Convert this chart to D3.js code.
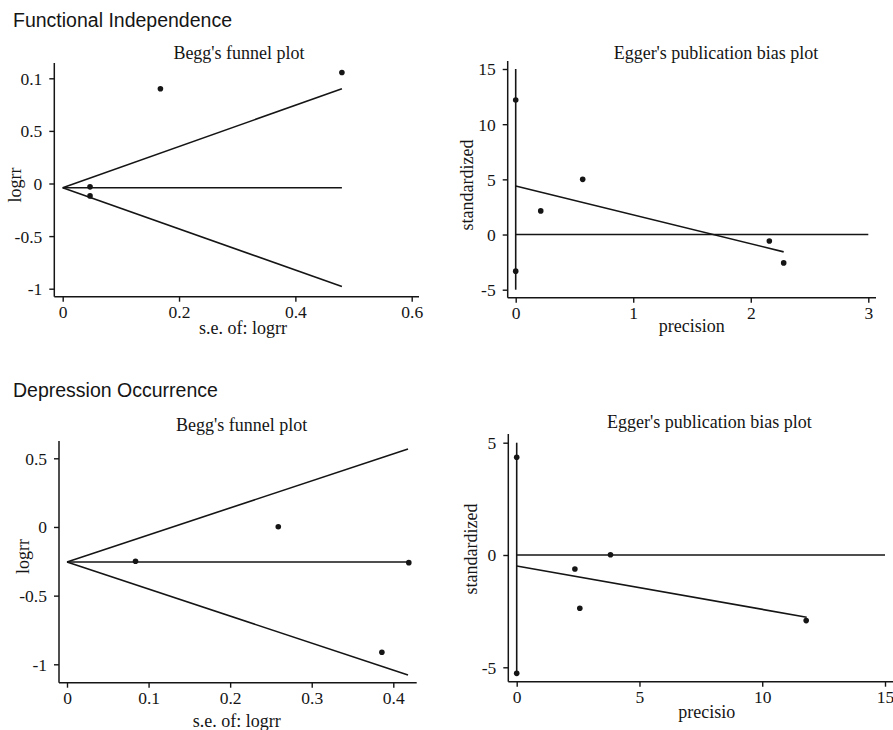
<html>
<head>
<meta charset="utf-8">
<script src="https://d3js.org/d3.v7.min.js"></script>
<style>
body{margin:0;background:#fff;}
svg{display:block;}
</style>
</head>
<body>
<script>
// ---- data ----
// Functional Independence, Begg
const fiBeggSe = [0.047, 0.047, 0.168, 0.48];
const fiBeggLogrr = [-0.032, -0.118, 0.90, 1.055];
const fiFunnelSe = [0, 0.48];
const fiFunnelUpper = [-0.04, 0.90];
const fiFunnelMid = [-0.04, -0.04];
const fiFunnelLower = [-0.04, -0.98];
const fiBeggXTicks = [0, 0.2, 0.4, 0.6];
const fiBeggXLabels = ['0', '0.2', '0.4', '0.6'];
const fiBeggYTicks = [1, 0.5, 0, -0.5, -1];
const fiBeggYLabels = ['0.1', '0.5', '0', '-0.5', '-1'];

// Functional Independence, Egger
const fiEggerPrec = [0, 0, 0.213, 0.57, 2.158, 2.28];
const fiEggerStd = [12.19, -3.32, 2.14, 5.0, -0.58, -2.57];
const fiEggerFitX = [0, 2.28];
const fiEggerFitY = [4.40, -1.57];
const fiEggerVert = [-5, 15];
const fiEggerZeroX = [0, 3];
const fiEggerXTicks = [0, 1, 2, 3];
const fiEggerYTicks = [15, 10, 5, 0, -5];

// Depression Occurrence, Begg
const doBeggSe = [0.084, 0.259, 0.419, 0.386];
const doBeggLogrr = [-0.25, 0.002, -0.26, -0.912];
const doFunnelSe = [0, 0.418];
const doFunnelUpper = [-0.255, 0.568];
const doFunnelMid = [-0.255, -0.255];
const doFunnelLower = [-0.255, -1.078];
const doBeggXTicks = [0, 0.1, 0.2, 0.3, 0.4];
const doBeggYTicks = [0.5, 0, -0.5, -1];

// Depression Occurrence, Egger
const doEggerPrec = [0, 0, 2.37, 2.57, 3.82, 11.79];
const doEggerStd = [4.35, -5.27, -0.62, -2.37, 0.01, -2.92];
const doEggerFitX = [0, 11.81];
const doEggerFitY = [-0.49, -2.77];
const doEggerVert = [-5.3, 5];
const doEggerZeroX = [0, 15];
const doEggerXTicks = [0, 5, 10, 15];
const doEggerYTicks = [5, 0, -5];

const serif = '"Liberation Serif", "Times New Roman", serif';
const ink = '#151515';

const svg = d3.select('body').append('svg')
  .attr('width', 893)
  .attr('height', 730);

// section headings
svg.append('text').attr('x', 13).attr('y', 27)
  .attr('font-family', '"Liberation Sans", Arial, sans-serif')
  .attr('font-size', 19.5).attr('fill', ink)
  .text('Functional Independence');
svg.append('text').attr('x', 13).attr('y', 397)
  .attr('font-family', '"Liberation Sans", Arial, sans-serif')
  .attr('font-size', 19.5).attr('fill', ink)
  .text('Depression Occurrence');

const zip = (a, b) => a.map((v, i) => [v, b[i]]);

function plot(p){
  const g = svg.append('g');
  const x = d3.scaleLinear().domain(p.xDomain).range(p.xRange);
  const y = d3.scaleLinear().domain(p.yDomain).range(p.yRange);
  const line = d3.line().x(d=>x(d[0])).y(d=>y(d[1]));

  // x axis
  const xa = g.append('g')
    .attr('transform', `translate(0,${p.axisY})`)
    .call(d3.axisBottom(x).tickValues(p.xTicks)
      .tickFormat((d,i)=>p.xLabels ? p.xLabels[i] : String(d))
      .tickSize(5).tickPadding(4).tickSizeOuter(0));
  xa.select('.domain').remove();
  // y axis
  const ya = g.append('g')
    .attr('transform', `translate(${p.axisX},0)`)
    .call(d3.axisLeft(y).tickValues(p.yTicks)
      .tickFormat((d,i)=>p.yLabels ? p.yLabels[i] : String(d))
      .tickSize(5).tickPadding(7).tickSizeOuter(0));
  ya.select('.domain').remove();
  [xa, ya].forEach(a=>{
    a.attr('font-family', serif).attr('font-size', 17.5);
    a.selectAll('text').attr('fill', ink);
    a.selectAll('line').attr('stroke', ink).attr('stroke-width', 1.4);
  });
  ya.selectAll('text').attr('dy', '0.34em');

  // axis lines
  g.append('line')
    .attr('x1', p.axisX).attr('x2', p.axisX)
    .attr('y1', p.axisTop).attr('y2', p.axisY)
    .attr('stroke', ink).attr('stroke-width', 1.5);
  g.append('line')
    .attr('x1', p.axisX).attr('x2', p.axisRight)
    .attr('y1', p.axisY).attr('y2', p.axisY)
    .attr('stroke', ink).attr('stroke-width', 1.5);

  // reference lines
  p.lines.forEach(l=>{
    g.append('path')
      .attr('d', line(l))
      .attr('fill', 'none')
      .attr('stroke', ink)
      .attr('stroke-width', 1.6);
  });

  // points
  g.selectAll('circle.pt')
    .data(zip(p.px, p.py))
    .enter()
    .append('circle')
      .attr('class', 'pt')
      .attr('cx', d=>x(d[0]))
      .attr('cy', d=>y(d[1]))
      .attr('r', 2.8)
      .attr('fill', ink);

  // titles
  g.append('text')
    .attr('x', p.title[1]).attr('y', p.title[2])
    .attr('text-anchor', 'middle')
    .attr('font-family', serif).attr('font-size', 18).attr('fill', ink)
    .text(p.title[0]);
  g.append('text')
    .attr('x', p.xTitle[1]).attr('y', p.xTitle[2])
    .attr('text-anchor', 'middle')
    .attr('font-family', serif).attr('font-size', 18).attr('fill', ink)
    .text(p.xTitle[0]);
  g.append('text')
    .attr('transform', `translate(${p.yTitle[1]},${p.yTitle[2]}) rotate(-90)`)
    .attr('text-anchor', 'middle')
    .attr('font-family', serif).attr('font-size', 18).attr('fill', ink)
    .text(p.yTitle[0]);
}

plot({
  xDomain: [0, 0.6], xRange: [62.7, 411.7],
  yDomain: [-1, 1], yRange: [288.7, 78.3],
  axisX: 54.3, axisY: 296.7, axisTop: 63, axisRight: 419,
  xTicks: fiBeggXTicks, xLabels: fiBeggXLabels,
  yTicks: fiBeggYTicks, yLabels: fiBeggYLabels,
  lines: [zip(fiFunnelSe, fiFunnelUpper), zip(fiFunnelSe, fiFunnelMid), zip(fiFunnelSe, fiFunnelLower)],
  px: fiBeggSe, py: fiBeggLogrr,
  title: ["Begg's funnel plot", 239, 58.5],
  xTitle: ['s.e. of: logrr', 243, 334],
  yTitle: ['logrr', 21, 185]
});

plot({
  xDomain: [0, 3], xRange: [515.7, 868.3],
  yDomain: [-5, 15], yRange: [289.7, 69],
  axisX: 507.7, axisY: 297.7, axisTop: 61, axisRight: 876,
  xTicks: fiEggerXTicks,
  yTicks: fiEggerYTicks,
  lines: [zip([0, 0], fiEggerVert), zip(fiEggerZeroX, [0, 0]), zip(fiEggerFitX, fiEggerFitY)],
  px: fiEggerPrec, py: fiEggerStd,
  title: ["Egger's publication bias plot", 716, 59.3],
  xTitle: ['precision', 691.7, 332],
  yTitle: ['standardized', 472.5, 185]
});

plot({
  xDomain: [0, 0.4], xRange: [67, 393.3],
  yDomain: [-1, 0.5], yRange: [664.3, 458.3],
  axisX: 59, axisY: 682.7, axisTop: 441, axisRight: 416.7,
  xTicks: doBeggXTicks,
  yTicks: doBeggYTicks,
  lines: [zip(doFunnelSe, doFunnelUpper), zip(doFunnelSe, doFunnelMid), zip(doFunnelSe, doFunnelLower)],
  px: doBeggSe, py: doBeggLogrr,
  title: ["Begg's funnel plot", 241.7, 430.7],
  xTitle: ['s.e. of: logrr', 236.7, 727],
  yTitle: ['logrr', 28.5, 556.5]
});

plot({
  xDomain: [0, 15], xRange: [516.7, 885],
  yDomain: [-5, 5], yRange: [667.3, 442.7],
  axisX: 508.3, axisY: 681.7, axisTop: 434, axisRight: 893,
  xTicks: doEggerXTicks,
  yTicks: doEggerYTicks,
  lines: [zip([0, 0], doEggerVert), zip(doEggerZeroX, [0, 0]), zip(doEggerFitX, doEggerFitY)],
  px: doEggerPrec, py: doEggerStd,
  title: ["Egger's publication bias plot", 709.3, 427.7],
  xTitle: ['precisio', 706.7, 718.3],
  yTitle: ['standardized', 477, 549]
});
</script>
</body>
</html>
